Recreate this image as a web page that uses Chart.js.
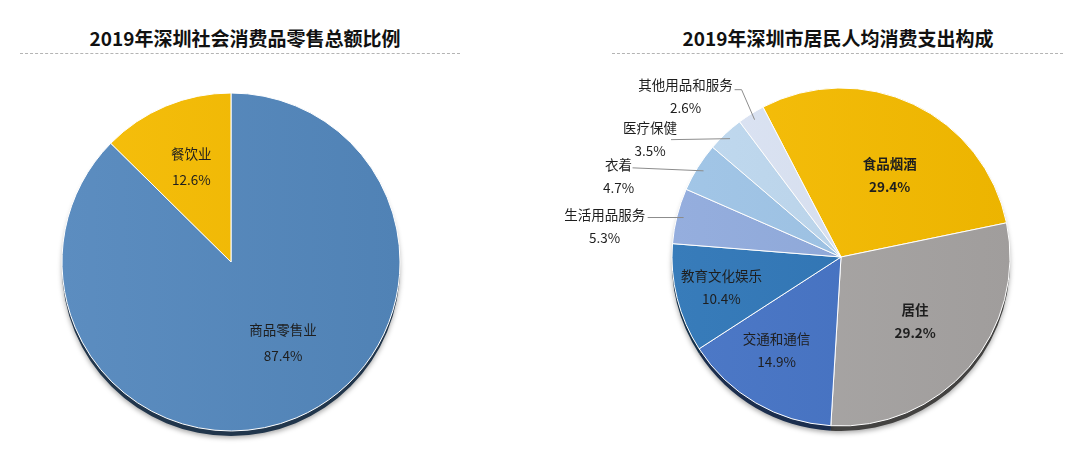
<!DOCTYPE html>
<html><head><meta charset="utf-8">
<script src="https://cdn.jsdelivr.net/npm/chart.js@4"></script>
<style>
html,body{margin:0;padding:0;background:#fff;width:1080px;height:452px;overflow:hidden;font-family:"Noto Sans CJK SC",sans-serif;}
.title{position:absolute;top:24px;font-weight:bold;font-size:19px;color:#111;white-space:nowrap;transform:translateX(-50%);line-height:28px;}
.rule{position:absolute;top:53px;height:0;border-top:1px dashed #b4b4b4;}
canvas{position:absolute;top:0;}
</style></head><body>
<div class="title" style="left:245px">2019年深圳社会消费品零售总额比例</div>
<div class="rule" style="left:20px;width:440px"></div>
<div class="title" style="left:838px">2019年深圳市居民人均消费支出构成</div>
<div class="rule" style="left:612px;width:451px"></div>
<canvas id="left" width="462" height="452" style="left:0"></canvas>
<canvas id="right" width="540" height="452" style="left:540px"></canvas>
<script>
// ---- data ----
const leftCategories = ['商品零售业', '餐饮业'];
const leftValues = [87.4, 12.6];
const rightCategories = ['食品烟酒', '居住', '交通和通信', '教育文化娱乐', '生活用品服务', '衣着', '医疗保健', '其他用品和服务'];
const rightValues = [29.4, 29.2, 14.9, 10.4, 5.3, 4.7, 3.5, 2.6];

// ---- styles ----
const leftColors = ['#5387bd', '#f6bc00'];
const rightColors = ['#f6bc00', '#a7a4a3', '#4472c4', '#2e75b6', '#8faadc', '#9dc3e6', '#bdd7ee', '#dae3f3'];

function rgb(hex){const n=parseInt(hex.slice(1),16);return [(n>>16)&255,(n>>8)&255,n&255];}
function mix(hex, f){ // f<0 darken, f>0 lighten
  const c=rgb(hex).map(v=>f<0?Math.round(v*(1+f)):Math.round(v+(255-v)*f));
  return 'rgb('+c.join(',')+')';
}
function gradFill(colors){
  return (ctx)=>{
    const base = colors[ctx.dataIndex];
    const chart = ctx.chart; const ca = chart.chartArea;
    if(!ca) return base;
    const cx=(ca.left+ca.right)/2, r=170;
    const g = chart.ctx.createLinearGradient(cx-r,0,cx+r,0);
    g.addColorStop(0, mix(base,0.05));
    g.addColorStop(1, mix(base,-0.04));
    return g;
  };
}

const shadowPlugin = {
  id:'pieShadow',
  beforeDatasetsDraw(chart){
    const ctx=chart.ctx; const meta=chart.getDatasetMeta(0);
    const colors = chart.data.datasets[0].shadowBase;
    meta.data.forEach((arc,i)=>{
      const p=arc.getProps(['x','y','startAngle','endAngle','outerRadius'],true);
      ctx.save();
      ctx.shadowColor='rgba(0,0,0,0.35)'; ctx.shadowBlur=5; ctx.shadowOffsetY=2;
      ctx.fillStyle=mix(colors[i],-0.6);
      ctx.beginPath(); ctx.moveTo(p.x,p.y+5);
      ctx.arc(p.x,p.y+5,p.outerRadius,p.startAngle,p.endAngle);
      ctx.closePath(); ctx.fill();
      ctx.restore();
    });
  }
};

const labelPlugin = {
  id:'sliceLabels',
  afterDatasetsDraw(chart, args, opts){
    const ctx=chart.ctx; const meta=chart.getDatasetMeta(0);
    const cats=chart.data.labels; const vals=chart.data.datasets[0].data;
    meta.data.forEach((arc,i)=>{
      const p=arc.getProps(['x','y','startAngle','endAngle','outerRadius'],true);
      const cfg=opts.cfg[i];
      const mid=(p.startAngle+p.endAngle)/2 + (cfg.turn||0)*Math.PI/180;
      const pct=vals[i].toFixed(1)+'%';
      ctx.save();
      ctx.font=(cfg.bold?'bold ':'')+'13.5px "Noto Sans CJK SC", sans-serif';
      ctx.fillStyle='#1e1e1e'; ctx.textAlign='center'; ctx.textBaseline='middle';
      if(cfg.inside!=null){
        const px=p.x+Math.cos(mid)*p.outerRadius*cfg.inside;
        const py=p.y+Math.sin(mid)*p.outerRadius*cfg.inside;
        ctx.fillText(cats[i],px,py-opts.gap);
        ctx.fillText(pct,px,py+opts.gap);
      } else {
        const ex=p.x+Math.cos(mid)*p.outerRadius*0.96;
        const ey=p.y+Math.sin(mid)*p.outerRadius*0.96;
        ctx.strokeStyle='#8c8c8c'; ctx.lineWidth=1;
        ctx.beginPath(); ctx.moveTo(ex,ey);
        if(cfg.knee) ctx.lineTo(ex+cfg.knee[0],ey+cfg.knee[1]);
        ctx.lineTo(ex+cfg.line[0],ey+cfg.line[1]); ctx.stroke();
        const tx=ex+cfg.text[0], ty=ey+cfg.text[1];
        ctx.fillText(cats[i],tx,ty);
        ctx.fillText(pct,tx,ty+23);
      }
      ctx.restore();
    });
  }
};

function makePie(id, cats, vals, colors, rotation, radius, padding, labelCfg, gap){
  return new Chart(document.getElementById(id), {
    type:'pie',
    data:{labels:cats, datasets:[{data:vals, backgroundColor:gradFill(colors), shadowBase:colors, borderColor:'#ffffff', borderWidth:1}]},
    options:{
      responsive:false, animation:false, rotation:rotation, radius:radius,
      layout:{padding:padding},
      plugins:{legend:{display:false}, tooltip:{enabled:false}, sliceLabels:{cfg:labelCfg, gap:gap}}
    },
    plugins:[shadowPlugin, labelPlugin]
  });
}

makePie('left', leftCategories, leftValues, leftColors, 0, 169, {top:72},
  [{inside:0.57, turn:-10},{inside:0.61}], 13);

makePie('right', rightCategories, rightValues, rightColors, -27.5, 169, {top:62, left:62},
  [{inside:0.56,bold:true,turn:5.5},{inside:0.58,bold:true},{inside:0.67,turn:4.4},{inside:0.73},
   {text:[-79,-3], line:[-36,0]},
   {text:[-85,-6], line:[-71,-3]},
   {text:[-80,-11], line:[-59,1]},
   {text:[-69,-35], knee:[-13,-30], line:[-20,-30]}], 11.5);
</script>
</body></html>
